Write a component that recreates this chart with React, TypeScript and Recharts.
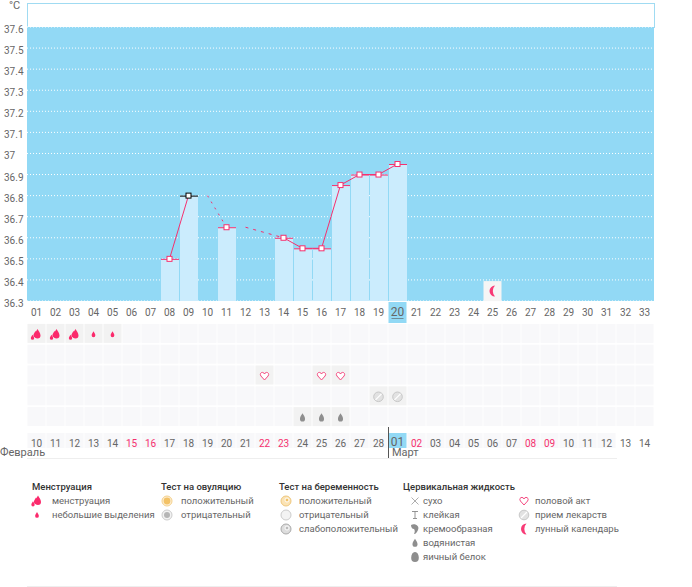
import React from 'react';
import { ComposedChart, Bar, Line, XAxis, YAxis, CartesianGrid } from 'recharts';

const FONT = 'Roboto, sans-serif';
const PINK = '#f5306e';
const GREY = '#666';

const days = ['01','02','03','04','05','06','07','08','09','10','11','12','13','14','15','16','17','18','19','20','21','22','23','24','25','26','27','28','29','30','31','32','33'];
const dates = ['10','11','12','13','14','15','16','17','18','19','20','21','22','23','24','25','26','27','28','01','02','03','04','05','06','07','08','09','10','11','12','13','14'];
const weekendCols = ['15','16','22','23','02','08','09'];
const n = null;
const temps = [n,n,n,n,n,n,n,36.5,36.8,n,36.65,n,n,36.6,36.55,36.55,36.85,36.9,36.9,36.95,n,n,n,n,n,n,n,n,n,n,n,n,n];
const dashedA = [n,n,n,n,n,n,n,n,n,36.8,36.65,n,n,n,n,n,n,n,n,n,n,n,n,n,n,n,n,n,n,n,n,n,n];
const dashedB: (number|null)[] = [n,n,n,n,n,n,n,n,n,n,n,36.65,n,36.6,n,n,n,n,n,n,n,n,n,n,n,n,n,n,n,n,n,n,n];
const moon = [n,n,n,n,n,n,n,n,n,n,n,n,n,n,n,n,n,n,n,n,n,n,n,n,36.347,n,n,n,n,n,n,n,n];
const yTicks = [36.3,36.4,36.5,36.6,36.7,36.8,36.9,37,37.1,37.2,37.3,37.4,37.5,37.6];

const rowMens: Record<string,string> = { '01':'heavy','02':'heavy','03':'heavy','04':'light','05':'light' };
const rowSex: Record<string,string> = { '13':'heart','16':'heart','17':'heart' };
const rowPill: Record<string,string> = { '19':'pill','20':'pill' };
const rowFluid: Record<string,string> = { '15':'water','16':'water','17':'water' };
const rows = [rowMens, {}, rowSex, rowPill, rowFluid] as Record<string,string>[];

const tempData = days.map((d,i)=>({ day:d, t:temps[i], a:dashedA[i], b:dashedB[i], moon:moon[i] }));
const calData = days.map((d,i)=>{
  const o: any = { day:d, date:dates[i] };
  rows.forEach((r,k)=>{ o['r'+k]=k; o['e'+k]=r[d]; });
  return o;
});

const DROP = 'M0 -5 C1 -3 3 -1 3 1.5 A3 3 0 0 1 -3 1.5 C-3 -1 -1 -3 0 -5 Z';

function Icon({kind}:{kind:string}) {
  switch(kind){
    case 'heavy': return <g fill="#fb2a6c"><path d={DROP} transform="translate(1,-0.5)"/><path d={DROP} transform="translate(-4,3) scale(.55)"/><path d={DROP} transform="translate(-1,0) scale(.7)"/></g>;
    case 'light': return <path d={DROP} transform="scale(.62)" fill="#fb2a6c"/>;
    case 'heart': return <path d="M0 4 L-3.6 0 C-5 -2 -3.5 -3.8 -2 -3.6 C-1 -3.5 -.4 -3 0 -2 C.4 -3 1 -3.5 2 -3.6 C3.5 -3.8 5 -2 3.6 0 Z" fill="#fff" stroke="#f5487f" strokeWidth="1"/>;
    case 'pill': return <g><circle r="4.8" fill="#e2e2e2" stroke="#c8c8c8"/><line x1="-3" y1="3" x2="3" y2="-3" stroke="#fff" strokeWidth="1.2"/></g>;
    case 'water': return <path d={DROP} transform="scale(.85)" fill="#8e8e8e"/>;
    case 'egg': return <path d="M0 -5 C3 -5 3.8 -1 3.8 1 A3.8 3.9 0 0 1 -3.8 1 C-3.8 -1 -3 -5 0 -5 Z" fill="#8e8e8e"/>;
    case 'moon': return <path d="M2.5 -5.5 A5.5 5.5 0 1 0 2.5 5.5 A8 8 0 0 1 2.5 -5.5 Z" fill="#f83a76"/>;
    case 'ovuPos': return <g><circle r="5" fill="#fdf0d8" stroke="#f5d08a"/><circle r="3.4" fill="#f3c266"/></g>;
    case 'ovuNeg': return <g><circle r="5" fill="#f2f2f2" stroke="#ccc"/><circle r="3" fill="#b5b5b5"/></g>;
    case 'pregPos': return <g><circle r="5" fill="#fbe3b4" stroke="#eec77e"/><circle cx="1" cy="-1" r="2" fill="#f3c266" stroke="#fff"/></g>;
    case 'pregNeg': return <g><circle r="5" fill="#f3f3f3" stroke="#ccc"/></g>;
    case 'pregWeak': return <g><circle r="5" fill="#ddd" stroke="#aaa"/><circle cx="1" cy="-1" r="2" fill="#bbb" stroke="#fff"/></g>;
    case 'dry': return <g stroke="#999" strokeWidth=".8"><line x1="-3.5" y1="-3.5" x2="3.5" y2="3.5"/><line x1="-3.5" y1="3.5" x2="3.5" y2="-3.5"/></g>;
    case 'sticky': return <g stroke="#888" strokeWidth=".9"><line x1="-3" y1="-3.5" x2="3" y2="-3.5"/><line x1="0" y1="-3.5" x2="0" y2="3.5"/><line x1="-2" y1="3.5" x2="2" y2="3.5"/></g>;
    case 'creamy': return <path d="M-4 -4 C0 -6 5 -3 3 1 C2 3 1 5 -1 5 C0 3 0 1 -1 0 C-3 0 -4 -2 -4 -4 Z" fill="#8e8e8e"/>;
    default: return null;
  }
}

const legendGroups = [
  { title:'Менструация', x:32, tx:52, ix:37, items:[['heavy','менструация'],['light','небольшие выделения']] },
  { title:'Тест на овуляцию', x:161, tx:181, ix:167, items:[['ovuPos','положительный'],['ovuNeg','отрицательный']] },
  { title:'Тест на беременность', x:279, tx:299, ix:286, items:[['pregPos','положительный'],['pregNeg','отрицательный'],['pregWeak','слабоположительный']] },
  { title:'Цервикальная жидкость', x:403, tx:423, ix:415, items:[['dry','сухо'],['sticky','клейкая'],['creamy','кремообразная'],['water','водянистая'],['egg','яичный белок']] },
  { title:'', x:535, tx:535, ix:524, items:[['heart','половой акт'],['pill','прием лекарств'],['moon','лунный календарь']] },
];

const YTick = ({y,payload}:any)=>(
  <text x={4} y={y+6} fontSize={10} fontFamily={FONT} fill={GREY}>{String(payload.value)}</text>
);
const DayTick = ({x,y,payload}:any)=>{
  const hi = payload.value==='20';
  return <g>
    {hi && <rect x={x-9} y={302} width={18} height={21} fill="#92d9f5"/>}
    <text x={x} y={316} textAnchor="middle" fontSize={hi?12:10} fontFamily={FONT} fill={GREY}>{payload.value}</text>
    {hi && <line x1={x-6} x2={x+6} y1={318.5} y2={318.5} stroke="#555" strokeWidth={.6}/>}
  </g>;
};
const TempBar = (p:any)=>{
  const {x,y,width,height,payload}=p;
  const col = payload.day==='09' ? '#000' : PINK;
  return <g><rect x={x} y={y} width={width} height={height} fill="#cbecfd"/><line x1={x} x2={x+width} y1={y+.5} y2={y+.5} stroke={col}/></g>;
};
const Square = (p:any)=>{
  const {cx,cy,index,payload}=p;
  if(cy==null||payload.t==null) return <g key={index}/>;
  return <rect key={index} x={cx-2.5} y={cy-2.5} width={5} height={5} fill="#fff" stroke={payload.day==='09'?'#000':PINK}/>;
};
const MoonDot = (p:any)=>{
  const {cx,cy,index,payload}=p;
  if(payload.moon==null) return <g key={index}/>;
  return <g key={index}><rect x={cx-9} y={cy-10} width={18} height={20} fill="#f5f5f5"/><g transform={`translate(${cx},${cy})`}><Icon kind="moon"/></g></g>;
};
const CellDot = (k:number)=>(p:any)=>{
  const {cx,cy,index,payload}=p;
  const e = payload['e'+k];
  return <g key={index}>
    <rect x={cx-9} y={cy-9.5} width={18} height={19} fill={e?'#f2f2f2':'#f8f8fa'}/>
    {e && <g transform={`translate(${cx},${cy+1})`}><Icon kind={e}/></g>}
  </g>;
};
const DateTick = ({x,y,payload,index}:any)=>{
  const hi = index===19;
  const label = dates[index];
  const red = weekendCols.includes(label);
  return <g>
    <rect x={x-9} y={y} width={18} height={19} fill={hi?'#92d9f5':(index<31?'#f8f8fa':'none')}/>
    <text x={x} y={y+(hi?13:14)} textAnchor="middle" fontSize={hi?12:10} fontFamily={FONT} fill={red?PINK:GREY}>{label}</text>
    {hi && <path d={`M${x-2} ${y+19} L${x+2} ${y+19} L${x} ${y+17} Z`} fill="#fff"/>}
  </g>;
};

export default function App(){
  return (
    <div style={{position:'absolute',left:0,top:0,width:692,height:587,background:'#fff',overflow:'hidden',fontFamily:FONT}}>
      <div style={{position:'absolute',left:27,top:3,width:626,height:24,borderTop:'1px solid #a0dbf2',borderLeft:'1px solid #a0dbf2',borderRight:'1px solid #a0dbf2'}}/>
      <div style={{position:'absolute',left:9,top:-1,fontSize:11,color:GREY}}>°C</div>

      <div style={{position:'absolute',left:0,top:0}}>
        <ComposedChart width={692} height={323} data={tempData} margin={{top:27,left:0,right:38,bottom:0}} barSize={18}>
          <CartesianGrid horizontal vertical={false} stroke="#fff" strokeDasharray="1 2" fill="#92d9f5" fillOpacity={1} syncWithTicks/>
          <XAxis dataKey="day" interval={0} axisLine={false} tickLine={false} height={22} tick={<DayTick/>} scale="band"/>
          <YAxis domain={[36.3,37.6]} ticks={yTicks} interval={0} width={27} axisLine={false} tickLine={false} tick={<YTick/>}/>
          <Bar dataKey="t" isAnimationActive={false} shape={<TempBar/>}/>
          <Line dataKey="a" stroke={PINK} strokeWidth={1} strokeDasharray="2 5" dot={false} isAnimationActive={false}/>
          <Line dataKey="b" stroke={PINK} strokeWidth={1} strokeDasharray="3 5" dot={false} connectNulls isAnimationActive={false}/>
          <Line dataKey="t" stroke={PINK} strokeWidth={1} dot={Square as any} isAnimationActive={false}/>
          <Line dataKey="moon" stroke="none" dot={MoonDot as any} isAnimationActive={false}/>
        </ComposedChart>
      </div>

      <div style={{position:'absolute',left:0,top:323}}>
        <ComposedChart width={692} height={125} data={calData} margin={{top:0,left:27,right:38,bottom:0}}>
          <XAxis dataKey="day" interval={0} axisLine={false} tickLine={false} height={21} tick={<DateTick/>} tickMargin={0} scale="band"/>
          <YAxis hide width={0} type="number" domain={[-0.5,4.5]} reversed allowDataOverflow/>
          {[0,1,2,3,4].map(k=>(
            <Line key={k} dataKey={'r'+k} stroke="#f8f8fa" strokeOpacity={0} dot={CellDot(k) as any} isAnimationActive={false}/>
          ))}
        </ComposedChart>
      </div>

      <div style={{position:'absolute',left:388,top:427,width:1,height:32,background:'#555'}}/>
      <div style={{position:'absolute',left:27,top:458,width:590,height:1,background:'#eee'}}/>
      <div style={{position:'absolute',left:0,top:446,fontSize:11,color:GREY,whiteSpace:'nowrap'}}>Февраль</div>
      <div style={{position:'absolute',left:392,top:446,fontSize:11,color:GREY}}>Март</div>

      {legendGroups.map(g=>(
        <React.Fragment key={g.ix}>
          {g.title && <div style={{position:'absolute',left:g.x,top:480,fontSize:9.5,lineHeight:'14px',color:'#333',whiteSpace:'nowrap',fontWeight:500}}>{g.title}</div>}
          {g.items.map(([k,label],i)=>(
            <React.Fragment key={label}>
              <svg style={{position:'absolute',left:g.ix-8,top:494+14*i}} width={16} height={14} viewBox="-8 -7 16 14"><Icon kind={k}/></svg>
              <div style={{position:'absolute',left:g.tx,top:494+14*i,fontSize:9.5,lineHeight:'14px',color:GREY,whiteSpace:'nowrap'}}>{label}</div>
            </React.Fragment>
          ))}
        </React.Fragment>
      ))}
      <div style={{position:'absolute',left:27,top:586,width:590,height:1,background:'#eee'}}/>
    </div>
  );
}
